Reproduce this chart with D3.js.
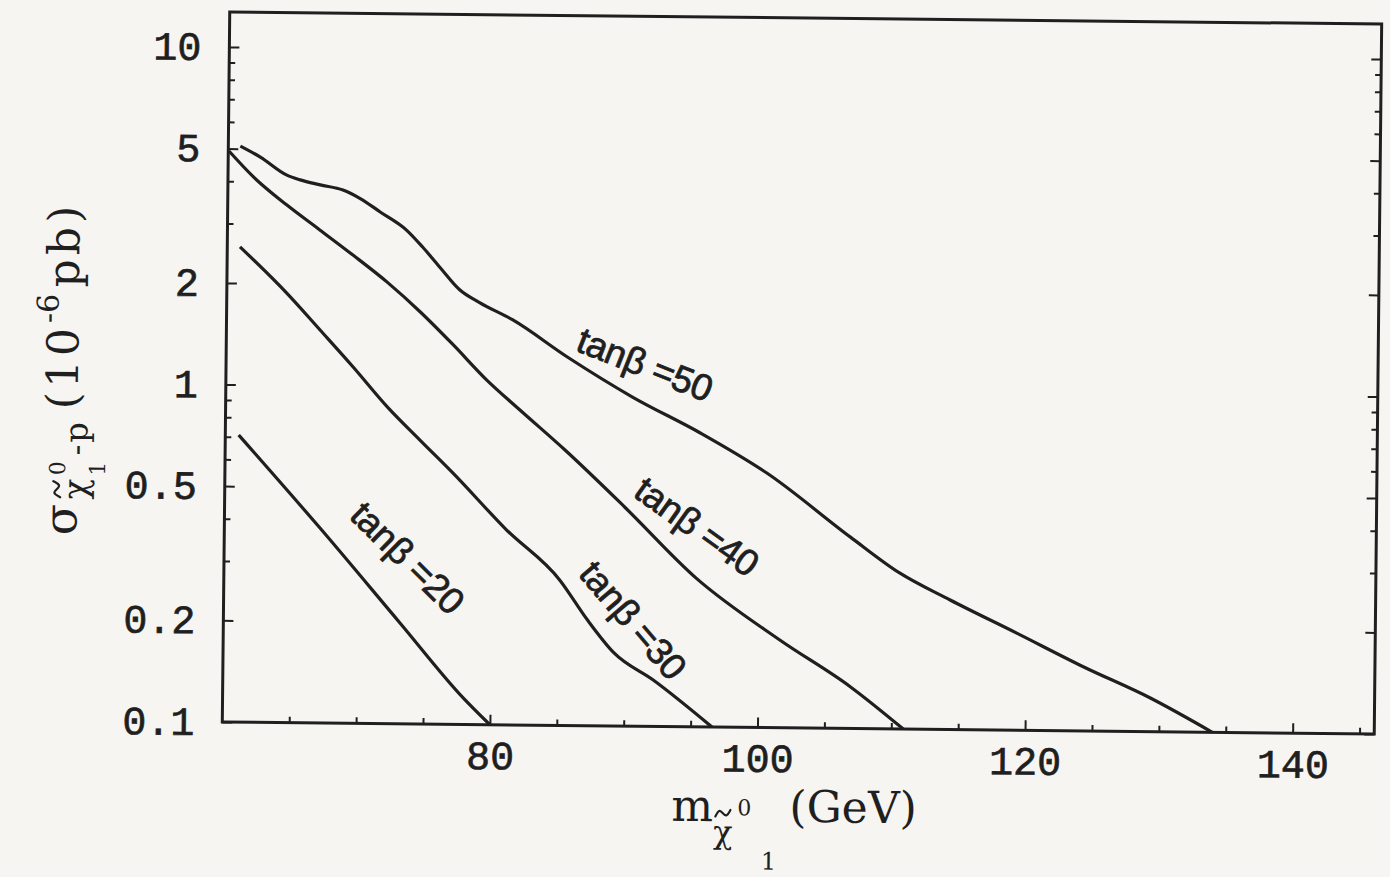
<!DOCTYPE html>
<html>
<head>
<meta charset="utf-8">
<script src="https://cdn.jsdelivr.net/npm/d3@7"></script>
<style>
  html, body { margin: 0; padding: 0; background: #f7f5f2; }
  svg { display: block; }
</style>
</head>
<body>
<svg id="chart" width="1390" height="877"></svg>
<script>
// Neutralino mass ticks (GeV) and cross-section ticks (10^-6 pb)
const massTicks = [80, 100, 120, 140];
const sigmaTicks = [0.1, 0.2, 0.5, 1, 2, 5, 10];

// σ(χ-p) versus m(χ) for four values of tanβ
const tb50Mass  = [60.9, 62.4, 64.4, 65.4, 66.9, 68.6, 69.9, 71.4, 73.4, 74.6, 75.9, 77.4, 78.9, 81.4, 85.5, 90.4, 95.5, 100.5, 106.8, 110.5, 114.3, 119.3, 124.3, 129.3, 134.0];
const tb50Sigma = [5.09, 4.73, 4.19, 4.06, 3.93, 3.80, 3.59, 3.28, 2.90, 2.59, 2.26, 1.94, 1.78, 1.585, 1.236, 0.945, 0.743, 0.568, 0.369, 0.290, 0.242, 0.194, 0.155, 0.126, 0.100];

const tb40Mass  = [60.05, 61.9, 64.4, 66.9, 69.4, 72.0, 74.5, 76.9, 79.5, 82.0, 85.4, 89.9, 95.3, 101.6, 106.9, 110.9];
const tb40Sigma = [4.92, 4.13, 3.42, 2.89, 2.44, 2.03, 1.66, 1.34, 1.05, 0.858, 0.655, 0.446, 0.276, 0.182, 0.133, 0.100];

const tb30Mass  = [60.95, 64.5, 67.0, 69.5, 72.1, 74.55, 77.05, 81.1, 85.1, 87.2, 89.2, 92.2, 96.6];
const tb30Sigma = [2.56, 1.87, 1.46, 1.137, 0.867, 0.694, 0.555, 0.378, 0.270, 0.206, 0.165, 0.137, 0.100];

const tb20Mass  = [61.0, 67.15, 73.2, 78.0, 80.0];
const tb20Sigma = [0.709, 0.378, 0.199, 0.1197, 0.100];

// Curve labels: tanβ value, anchor (mass, sigma) and text angle
const labelTanBeta = [50, 40, 30, 20];
const labelMass    = [91.3, 95.3, 90.6, 73.7];
const labelSigma   = [1.18, 0.392, 0.206, 0.310];
const labelAngle   = [21, 35, 49, 44];

const series = [
  { mass: tb50Mass, sigma: tb50Sigma },
  { mass: tb40Mass, sigma: tb40Sigma },
  { mass: tb30Mass, sigma: tb30Sigma },
  { mass: tb20Mass, sigma: tb20Sigma }
];

const ink = "#1f1f1f";
const plot = { left: 226, right: 1378, top: 18, bottom: 728 };

const svg = d3.select("#chart");
svg.append("rect").attr("width", 1390).attr("height", 877).attr("fill", "#f7f5f2");

// the whole figure sits very slightly tilted
const root = svg.append("g").attr("transform", "rotate(0.6, 803, 372)");

const x = d3.scaleLinear().domain([60, 146.1]).range([plot.left, plot.right]);
const y = d3.scaleLog().domain([0.1, 12.7]).range([plot.bottom, plot.top]);

// minor tick values
const massMinor = d3.range(65, 146, 5).filter(v => !massTicks.includes(v));
const sigmaMinor = [];
[0.1, 1, 10].forEach(dec => {
  for (let k = 1; k <= 9; k++) {
    const v = +(k * dec).toPrecision(3);
    if (v >= 0.1 && v <= 12.7 && !sigmaTicks.includes(v)) sigmaMinor.push(v);
  }
});

function styleAxis(g) {
  g.select(".domain").remove();
  g.selectAll(".tick line").attr("stroke", ink).attr("stroke-width", 2);
  g.selectAll(".tick text")
    .attr("fill", ink)
    .attr("stroke", ink)
    .attr("stroke-width", 0.7)
    .attr("font-family", "'Liberation Mono', 'DejaVu Sans Mono', monospace")
    .attr("font-size", 40);
}

// bottom axis
root.append("g")
  .attr("transform", `translate(0,${plot.bottom})`)
  .call(d3.axisBottom(x).tickValues(massTicks).tickFormat(d => d).tickSize(-10).tickPadding(16))
  .call(styleAxis);
root.append("g")
  .attr("transform", `translate(0,${plot.bottom})`)
  .call(d3.axisBottom(x).tickValues(massMinor).tickFormat("").tickSize(-6))
  .call(styleAxis);

// left axis
root.append("g")
  .attr("transform", `translate(${plot.left},0)`)
  .call(d3.axisLeft(y).tickValues(sigmaTicks).tickFormat(d => String(d)).tickSize(-10).tickPadding(28))
  .call(styleAxis);
root.append("g")
  .attr("transform", `translate(${plot.left},0)`)
  .call(d3.axisLeft(y).tickValues(sigmaMinor).tickFormat("").tickSize(-6))
  .call(styleAxis);

// right axis (ticks only)
root.append("g")
  .attr("transform", `translate(${plot.right},0)`)
  .call(d3.axisRight(y).tickValues(sigmaTicks).tickFormat("").tickSize(-10))
  .call(styleAxis);
root.append("g")
  .attr("transform", `translate(${plot.right},0)`)
  .call(d3.axisRight(y).tickValues(sigmaMinor).tickFormat("").tickSize(-6))
  .call(styleAxis);

// frame
root.append("rect")
  .attr("x", plot.left).attr("y", plot.top)
  .attr("width", plot.right - plot.left).attr("height", plot.bottom - plot.top)
  .attr("fill", "none").attr("stroke", ink).attr("stroke-width", 3);

// curves
root.append("clipPath").attr("id", "plot-clip")
  .append("rect")
  .attr("x", plot.left).attr("y", plot.top)
  .attr("width", plot.right - plot.left).attr("height", plot.bottom - plot.top);

const line = d3.line()
  .x(d => x(d[0]))
  .y(d => y(d[1]))
  .curve(d3.curveMonotoneX);

root.append("g").attr("clip-path", "url(#plot-clip)")
  .selectAll("path")
  .data(series)
  .join("path")
  .attr("d", s => line(s.mass.map((m, i) => [m, s.sigma[i]])))
  .attr("fill", "none")
  .attr("stroke", ink)
  .attr("stroke-width", 3.2)
  .attr("stroke-linejoin", "round");

// curve labels
root.append("g")
  .selectAll("text")
  .data(labelTanBeta)
  .join("text")
  .attr("transform", (d, i) => `translate(${x(labelMass[i])},${y(labelSigma[i])}) rotate(${labelAngle[i]})`)
  .attr("text-anchor", "middle")
  .attr("dominant-baseline", "central")
  .attr("font-family", "'Liberation Sans', Arial, sans-serif")
  .attr("font-size", 37)
  .attr("letter-spacing", -0.5)
  .attr("fill", ink)
  .attr("stroke", ink)
  .attr("stroke-width", 0.8)
  .text(d => `tanβ =${d}`);

// small tilde accent drawn as a stroke
const tildeLine = d3.line().curve(d3.curveBasis);
function tilde(g, x0, yc, w) {
  const h = w * 0.22;
  g.append("path")
    .attr("d", tildeLine([
      [x0, yc + h], [x0 + w * 0.25, yc - h * 1.2], [x0 + w * 0.5, yc],
      [x0 + w * 0.75, yc + h * 1.2], [x0 + w, yc - h]
    ]))
    .attr("fill", "none").attr("stroke", ink).attr("stroke-width", 2.2)
    .attr("stroke-linecap", "round");
}

// x-axis title: m with subscript χ̃ (sup 0, sub 1), then (GeV)
const serif = "'DejaVu Serif', 'Liberation Serif', serif";
const xTitle = root.append("g").attr("transform", "translate(676,822)")
  .attr("font-family", serif).attr("fill", ink);
xTitle.append("text").attr("x", 0).attr("y", 0).attr("font-size", 44).text("m");
xTitle.append("text").attr("x", 42).attr("y", 22).attr("font-size", 32).text("χ");
tilde(xTitle, 44, -8, 15);
xTitle.append("text").attr("x", 66).attr("y", -6).attr("font-size", 22).text("0");
xTitle.append("text").attr("x", 90).attr("y", 48).attr("font-size", 24).text("1");
xTitle.append("text").attr("x", 118).attr("y", 0).attr("font-size", 44).text("(GeV)");

// y-axis title: σ with subscript χ̃ (sup 0, sub 1) -p, then (10^-6 pb), reading upward
const yTitle = root.append("g").attr("transform", "translate(78,545) rotate(-90)")
  .attr("font-family", serif).attr("fill", ink);
yTitle.append("text").attr("x", 2).attr("y", 0).attr("font-size", 46).text("σ");
yTitle.append("text").attr("x", 38).attr("y", 10).attr("font-size", 34).text("χ");
tilde(yTitle, 40, -20, 16);
yTitle.append("text").attr("x", 62).attr("y", -12).attr("font-size", 22).text("0");
yTitle.append("text").attr("x", 62).attr("y", 28).attr("font-size", 22).text("1");
yTitle.append("text").attr("x", 82).attr("y", 10).attr("font-size", 32).attr("letter-spacing", 2).text("-p");
yTitle.append("text").attr("x", 128).attr("y", 0).attr("font-size", 44).attr("letter-spacing", 4).text("(10");
yTitle.append("text").attr("x", 214).attr("y", -20).attr("font-size", 30).text("-6");
yTitle.append("text").attr("x", 250).attr("y", 0).attr("font-size", 44).attr("letter-spacing", 4).text("pb)");
</script>
</body>
</html>
